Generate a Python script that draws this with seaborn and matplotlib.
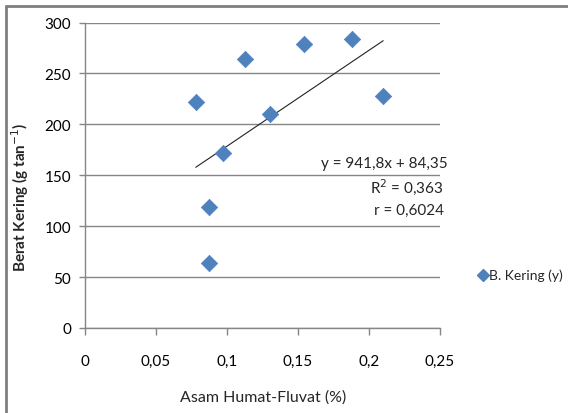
import numpy as np
import pandas as pd
import matplotlib
matplotlib.use("Agg")
import matplotlib.pyplot as plt
import seaborn as sns
from matplotlib.lines import Line2D

# data
asam_humat = [0.078, 0.0875, 0.0875, 0.097, 0.113, 0.130, 0.154, 0.188, 0.210]
berat_kering = [222, 119, 64, 172, 264, 210, 279, 284, 228]
slope = 941.8
intercept = 84.35
x_ticks = [0, 0.05, 0.1, 0.15, 0.2, 0.25]
x_tick_labels = ["0", "0,05", "0,1", "0,15", "0,2", "0,25"]
y_ticks = [0, 50, 100, 150, 200, 250, 300]
eq_lines = ["y = 941,8x + 84,35", "R$^2$ = 0,363", "r = 0,6024"]
series_name = "B. Kering (y)"

df = pd.DataFrame({"x": asam_humat, "y": berat_kering})

sns.set_style("white")
plt.rcParams["font.family"] = ["Lato", "DejaVu Sans"]

fig = plt.figure(figsize=(5.68, 4.14), dpi=100)
ax = fig.add_axes([85 / 568, 1 - 329 / 414, 355 / 568, 305.5 / 414])

blue = "#4f81bd"
grey = "#868686"

sns.scatterplot(data=df, x="x", y="y", ax=ax, marker="D", s=70,
                color=blue, edgecolor=blue, linewidth=0.5, zorder=3,
                legend=False)

# linear trendline from the fitted equation
xs = np.array([min(asam_humat), max(asam_humat)])
ax.plot(xs, slope * xs + intercept, color="#222222", linewidth=0.8, zorder=2)

ax.set_xlim(0, 0.25)
ax.set_ylim(0, 300)
ax.set_xticks(x_ticks)
ax.set_xticklabels(x_tick_labels)
ax.set_yticks(y_ticks)
ax.yaxis.grid(True, color=grey, linewidth=1)
ax.xaxis.grid(False)
ax.set_axisbelow(True)

for side in ["top", "right"]:
    ax.spines[side].set_visible(False)
for side in ["left", "bottom"]:
    ax.spines[side].set_color(grey)
    ax.spines[side].set_linewidth(1)

ax.tick_params(axis="x", direction="out", length=5, width=1, color=grey,
               pad=14, labelsize=11, labelcolor="#000000", bottom=True)
ax.tick_params(axis="y", direction="out", length=4, width=1, color=grey,
               pad=6, labelsize=11, labelcolor="#000000", left=True)

ax.set_xlabel("")
ax.set_ylabel("")
fig.text(263 / 568, 1 - 398 / 414, "Asam Humat-Fluvat (%)", ha="center",
         va="center", fontsize=11.5)
fig.text(20 / 568, 1 - 197 / 414, "Berat Kering (g tan$^{-1}$)", ha="center",
         va="center", rotation=90, fontsize=11, fontweight="bold")

# equation box
for i, (txt, ypx) in enumerate(zip(eq_lines, [164, 187, 211])):
    xr = 448 if i == 0 else 444
    fig.text(xr / 568, 1 - ypx / 414, txt, ha="right", va="center",
             fontsize=11)

# legend
fig.add_artist(Line2D([483 / 568], [1 - 276 / 414], marker="D", markersize=6,
                      color=blue, linestyle="none", transform=fig.transFigure))
fig.text(489 / 568, 1 - 276 / 414, series_name, ha="left", va="center",
         fontsize=10)

# chart frame (left and top only visible in the crop)
fig.add_artist(Line2D([6 / 568, 6 / 568], [0, 1 - 7 / 414], color="#7f7f7f",
                      linewidth=2, transform=fig.transFigure))
fig.add_artist(Line2D([6 / 568, 1], [1 - 7 / 414, 1 - 7 / 414], color="#7f7f7f",
                      linewidth=2, transform=fig.transFigure))

fig.savefig("out.png", dpi=100)
